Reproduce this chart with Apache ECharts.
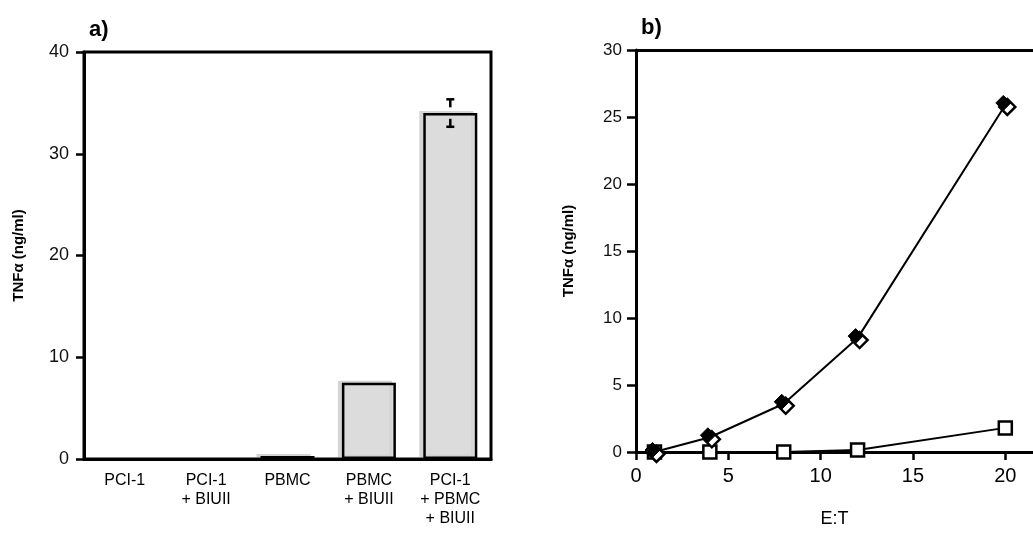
<!DOCTYPE html>
<html>
<head>
  <meta charset="utf-8">
  <title>TNF</title>
  <script src="https://cdn.jsdelivr.net/npm/echarts@6/dist/echarts.min.js"></script>
  <style>
    body { margin: 0; background: #fff; }
    #main { width: 1033px; height: 533px; }
  </style>
</head>
<body>
  <div id="main"></div>
  <script>
    // panel a: bar data
    var barCats = ['PCI-1', 'PCI-1\n+ BIUII', 'PBMC', 'PBMC\n+ BIUII', 'PCI-1\n+ PBMC\n+ BIUII'];
    var barVals = [0, 0, 0.3, 7.5, 34];
    var barErr = [0, 0, 0, 0, 1.35];
    var yTicksA = [0, 10, 20, 30, 40];

    // panel b: E:T curves
    var etRatio = [1, 4, 8, 12, 20];
    var tnfDiamond = [0, 1.1, 3.6, 8.5, 25.9];
    var tnfSquare = [0, 0, 0, 0.15, 1.8];
    var xTicksB = [0, 5, 10, 15, 20];

    var font = 'Arial, "Liberation Sans", sans-serif';
    var black = '#000';
    var myChart = echarts.init(document.getElementById('main'));

    function pairs(xs, ys) {
      return xs.map(function (x, i) { return [x, ys[i]]; });
    }

    // empty bars leave no outline in the original
    var barData = barVals.map(function (v) {
      if (v > 0) return v;
      return { value: v, itemStyle: { color: 'transparent', borderWidth: 0, shadowColor: 'transparent' } };
    });

    var option = {
      animation: false,
      title: [
        { text: 'a)', left: 84, top: 14, textStyle: { fontFamily: font, fontSize: 22, fontWeight: 'bold', color: black } },
        { text: 'b)', left: 636, top: 12, textStyle: { fontFamily: font, fontSize: 22, fontWeight: 'bold', color: black } }
      ],
      grid: [
        { left: 84, top: 52, width: 407, height: 407, show: true, borderColor: black, borderWidth: 3, backgroundColor: 'transparent' },
        { left: 636, top: 50, right: -2, height: 407 }
      ],
      xAxis: [
        {
          gridIndex: 0, type: 'category', data: barCats,
          axisLine: { lineStyle: { color: black, width: 3 } },
          axisTick: { alignWithLabel: true, length: 6, lineStyle: { color: black, width: 2.5 } },
          axisLabel: { color: black, fontFamily: font, fontSize: 16, lineHeight: 19, margin: 12, verticalAlign: 'top', interval: 0 }
        },
        {
          gridIndex: 1, type: 'value', min: 0, max: 21.5, name: 'E:T',
          nameLocation: 'middle', nameGap: 58,
          nameTextStyle: { color: black, fontFamily: font, fontSize: 18 },
          axisLine: { onZero: true, lineStyle: { color: black, width: 3 } },
          axisTick: { length: 8, customValues: xTicksB, lineStyle: { color: black, width: 2.5 } },
          axisLabel: { customValues: xTicksB, color: black, fontFamily: font, fontSize: 20, margin: 14 },
          splitLine: { show: false }
        },
        {
          gridIndex: 1, type: 'value', position: 'top', min: 0, max: 21.5,
          axisLine: { show: true, onZero: false, lineStyle: { color: black, width: 3 } },
          axisTick: { show: false }, axisLabel: { show: false }, splitLine: { show: false }
        }
      ],
      yAxis: [
        {
          gridIndex: 0, type: 'value', min: 0, max: 40, interval: 10,
          name: 'TNFα (ng/ml)', nameLocation: 'middle', nameGap: 58, nameRotate: 90,
          nameTextStyle: { color: black, fontFamily: font, fontSize: 15, fontWeight: 'bold' },
          axisLine: { show: true, lineStyle: { color: black, width: 3 } },
          axisTick: { show: true, length: 8, lineStyle: { color: black, width: 2.5 } },
          axisLabel: { color: '#111', fontFamily: font, fontSize: 18, margin: 15,
            customValues: yTicksA },
          splitLine: { show: false }
        },
        {
          gridIndex: 1, type: 'value', min: 0, max: 30, interval: 5,
          name: 'TNFα (ng/ml)', nameLocation: 'middle', nameGap: 60, nameRotate: 90,
          nameTextStyle: { color: black, fontFamily: font, fontSize: 15, fontWeight: 'bold' },
          axisLine: { show: true, lineStyle: { color: black, width: 3 } },
          axisTick: { show: true, length: 9, lineStyle: { color: black, width: 2.5 } },
          axisLabel: { color: '#111', fontFamily: font, fontSize: 17, margin: 14 },
          splitLine: { show: false }
        }
      ],
      series: [
        {
          type: 'bar', xAxisIndex: 0, yAxisIndex: 0, barWidth: 54,
          data: barData,
          itemStyle: {
            color: '#dcdcdc', borderColor: black, borderWidth: 2.5,
            shadowColor: '#d4d4d4', shadowOffsetX: -4, shadowOffsetY: -2, shadowBlur: 0
          },
          z: 2
        },
        {
          // error bars drawn as split caps like the original
          type: 'custom', xAxisIndex: 0, yAxisIndex: 0, z: 5,
          data: barVals.map(function (v, i) { return [i, v, barErr[i]]; }),
          renderItem: function (params, api) {
            var err = api.value(2);
            if (!err) return;
            var x = api.value(0), m = api.value(1);
            var hi = api.coord([x, m + err]);
            var lo = api.coord([x, m - err]);
            var st = { stroke: black, lineWidth: 2.5 };
            return {
              type: 'group',
              children: [
                { type: 'line', shape: { x1: hi[0] - 4, y1: hi[1], x2: hi[0] + 4, y2: hi[1] }, style: st },
                { type: 'line', shape: { x1: hi[0], y1: hi[1], x2: hi[0], y2: hi[1] + 8 }, style: st },
                { type: 'line', shape: { x1: lo[0] - 4, y1: lo[1], x2: lo[0] + 4, y2: lo[1] }, style: st },
                { type: 'line', shape: { x1: lo[0], y1: lo[1], x2: lo[0], y2: lo[1] - 8 }, style: st }
              ]
            };
          }
        },
        {
          type: 'line', xAxisIndex: 1, yAxisIndex: 1, z: 4,
          data: pairs(etRatio, tnfSquare),
          symbol: 'rect', symbolSize: 13,
          itemStyle: { color: '#fff', borderColor: black, borderWidth: 2.5 },
          lineStyle: { color: black, width: 2 }
        },
        {
          type: 'line', xAxisIndex: 1, yAxisIndex: 1, z: 5,
          data: pairs(etRatio, tnfDiamond),
          symbol: 'diamond', symbolSize: 16, symbolOffset: [2, 2],
          itemStyle: { color: '#fff', borderColor: black, borderWidth: 2.5 },
          lineStyle: { color: black, width: 2 }
        },
        {
          type: 'scatter', xAxisIndex: 1, yAxisIndex: 1, z: 6,
          data: pairs(etRatio, tnfDiamond),
          symbol: 'diamond', symbolSize: 15, symbolOffset: [-2, -2],
          itemStyle: { color: black, borderColor: black, borderWidth: 1, opacity: 1 }
        }
      ]
    };
    myChart.setOption(option);
  </script>
</body>
</html>
